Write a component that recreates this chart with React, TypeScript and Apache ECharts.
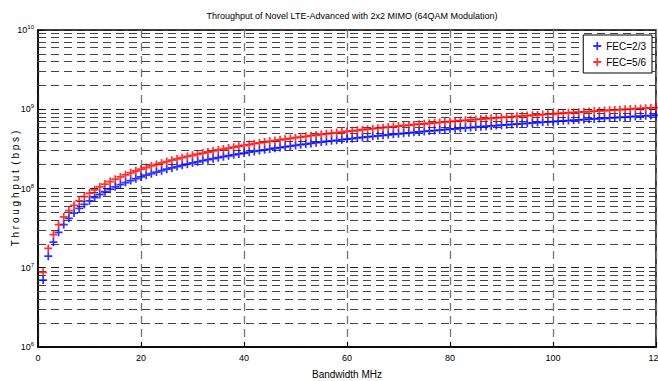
import React, { useEffect, useRef } from "react";
import * as echarts from "echarts";

const bandwidthMHz = [
  1, 2, 3, 4, 5, 6, 7, 8, 9, 10, 11, 12, 13, 14, 15, 16, 17, 18, 19, 20,
  21, 22, 23, 24, 25, 26, 27, 28, 29, 30, 31, 32, 33, 34, 35, 36, 37, 38, 39, 40,
  41, 42, 43, 44, 45, 46, 47, 48, 49, 50, 51, 52, 53, 54, 55, 56, 57, 58, 59, 60,
  61, 62, 63, 64, 65, 66, 67, 68, 69, 70, 71, 72, 73, 74, 75, 76, 77, 78, 79, 80,
  81, 82, 83, 84, 85, 86, 87, 88, 89, 90, 91, 92, 93, 94, 95, 96, 97, 98, 99, 100,
  101, 102, 103, 104, 105, 106, 107, 108, 109, 110, 111, 112, 113, 114, 115, 116, 117, 118, 119, 120,
];

// Throughput in Mbps
const fec23Mbps = [
  7, 14, 21, 28, 35, 42, 49, 56, 63, 70, 77, 84, 91, 98, 105, 112, 119, 126, 133, 140,
  147, 154, 161, 168, 175, 182, 189, 196, 203, 210, 217, 224, 231, 238, 245, 252, 259, 266, 273, 280,
  287, 294, 301, 308, 315, 322, 329, 336, 343, 350, 357, 364, 371, 378, 385, 392, 399, 406, 413, 420,
  427, 434, 441, 448, 455, 462, 469, 476, 483, 490, 497, 504, 511, 518, 525, 532, 539, 546, 553, 560,
  567, 574, 581, 588, 595, 602, 609, 616, 623, 630, 637, 644, 651, 658, 665, 672, 679, 686, 693, 700,
  707, 714, 721, 728, 735, 742, 749, 756, 763, 770, 777, 784, 791, 798, 805, 812, 819, 826, 833, 840,
];

const fec56Mbps = [
  8.75, 17.5, 26.25, 35, 43.75, 52.5, 61.25, 70, 78.75, 87.5, 96.25, 105, 113.75, 122.5, 131.25, 140, 148.75, 157.5, 166.25, 175,
  183.75, 192.5, 201.25, 210, 218.75, 227.5, 236.25, 245, 253.75, 262.5, 271.25, 280, 288.75, 297.5, 306.25, 315, 323.75, 332.5, 341.25, 350,
  358.75, 367.5, 376.25, 385, 393.75, 402.5, 411.25, 420, 428.75, 437.5, 446.25, 455, 463.75, 472.5, 481.25, 490, 498.75, 507.5, 516.25, 525,
  533.75, 542.5, 551.25, 560, 568.75, 577.5, 586.25, 595, 603.75, 612.5, 621.25, 630, 638.75, 647.5, 656.25, 665, 673.75, 682.5, 691.25, 700,
  708.75, 717.5, 726.25, 735, 743.75, 752.5, 761.25, 770, 778.75, 787.5, 796.25, 805, 813.75, 822.5, 831.25, 840, 848.75, 857.5, 866.25, 875,
  883.75, 892.5, 901.25, 910, 918.75, 927.5, 936.25, 945, 953.75, 962.5, 971.25, 980, 988.75, 997.5, 1006.25, 1015, 1023.75, 1032.5, 1041.25, 1050,
];

const seriesNames = ["FEC=2/3", "FEC=5/6"];
const decades = [6, 7, 8, 9];
const minorMultipliers = [2, 3, 4, 5, 6, 7, 8, 9];
const xTicks = [0, 20, 40, 60, 80, 100, 120];

const PLUS = "path://M3.9,0H6.1V3.9H10V6.1H6.1V10H3.9V6.1H0V3.9H3.9Z";
const FONT = "'Liberation Sans Narrow', 'Liberation Sans', Arial, sans-serif";

export default function App() {
  const ref = useRef<HTMLDivElement>(null);
  useEffect(() => {
    if (!ref.current) return;
    const chart = echarts.init(ref.current, null, { renderer: "svg" });

    const minorLines: any[] = [];
    decades.forEach((d) =>
      minorMultipliers.forEach((m) => minorLines.push({ yAxis: m * Math.pow(10, d) }))
    );

    const toPairs = (vals: number[]) => bandwidthMHz.map((b, i) => [b, vals[i] * 1e6]);

    chart.setOption({
      animation: false,
      backgroundColor: "#fff",
      textStyle: { fontFamily: FONT },
      title: {
        text: "Throughput of Novel LTE-Advanced with 2x2 MIMO (64QAM Modulation)",
        left: 347,
        textAlign: "center",
        top: 6,
        textStyle: { fontSize: 9, fontWeight: "normal", color: "#000", fontFamily: FONT },
      },
      grid: {
        left: 38,
        right: 2,
        top: 30,
        bottom: 34,
        outerBoundsMode: "none",
        containLabel: false,
        show: true,
        borderColor: "#000",
        borderWidth: 1.5,
        backgroundColor: "transparent",
      },
      legend: {
        orient: "vertical",
        right: 6,
        top: 35,
        padding: [6, 6, 6, 10],
        itemGap: 6,
        itemWidth: 8,
        itemHeight: 8,
        borderColor: "#000",
        borderWidth: 1,
        borderRadius: 0,
        backgroundColor: "#fff",
        textStyle: { fontSize: 10, color: "#000", fontFamily: FONT },
        data: [
          { name: seriesNames[0], icon: PLUS },
          { name: seriesNames[1], icon: PLUS },
        ],
      },
      xAxis: {
        type: "value",
        min: 0,
        max: 120,
        interval: 20,
        name: "Bandwidth MHz",
        nameLocation: "middle",
        nameGap: 22,
        nameMoveOverlap: false,
        nameTextStyle: { fontSize: 10, color: "#000", fontFamily: FONT },
        axisLine: { show: true, lineStyle: { color: "#000", width: 1.5 } },
        axisTick: { show: true, inside: true, length: 5, lineStyle: { color: "#000" } },
        axisLabel: {
          fontSize: 9,
          color: "#000",
          margin: 6,
          formatter: (v: number) => (xTicks.includes(v) ? String(v) : ""),
        },
        splitLine: { show: true, lineStyle: { color: "#777", type: [8, 5], width: 1.3 } },
      },
      yAxis: {
        type: "log",
        logBase: 10,
        min: 1e6,
        max: 1e10,
        name: "T h r o u g h p u t  ( b p s )",
        nameLocation: "middle",
        nameGap: 18,
        nameMoveOverlap: false,
        nameTextStyle: { fontSize: 10, color: "#000", fontFamily: FONT },
        axisLine: { show: true, lineStyle: { color: "#000", width: 1.5 } },
        axisTick: { show: true, inside: true, length: 5, lineStyle: { color: "#000" } },
        axisLabel: {
          color: "#000",
          margin: 4,
          formatter: (v: number) => {
            const e = Math.round(Math.log10(v));
            return "{b|10}{s|" + e + "}";
          },
          rich: {
            b: { fontSize: 9, color: "#000", fontFamily: FONT },
            s: { fontSize: 6, color: "#000", fontFamily: FONT, verticalAlign: "bottom", padding: [0, 0, 6, 0] },
          },
        },
        splitLine: { show: true, lineStyle: { color: "#222", type: [8, 5], width: 1 } },
      },
      series: [
        {
          name: seriesNames[0],
          type: "scatter",
          symbol: PLUS,
          symbolSize: 8,
          itemStyle: { color: "#0000ff" },
          data: toPairs(fec23Mbps),
          z: 3,
          markLine: {
            silent: true,
            symbol: "none",
            label: { show: false },
            lineStyle: { color: "#444", type: [8, 5], width: 1 },
            data: minorLines,
            z: 1,
          },
        },
        {
          name: seriesNames[1],
          type: "scatter",
          symbol: PLUS,
          symbolSize: 8,
          itemStyle: { color: "#ff0000" },
          data: toPairs(fec56Mbps),
          z: 4,
        },
      ],
    });
    return () => chart.dispose();
  }, []);
  return <div ref={ref} style={{ width: 658, height: 381, position: "absolute", left: 0, top: 0 }} />;
}
